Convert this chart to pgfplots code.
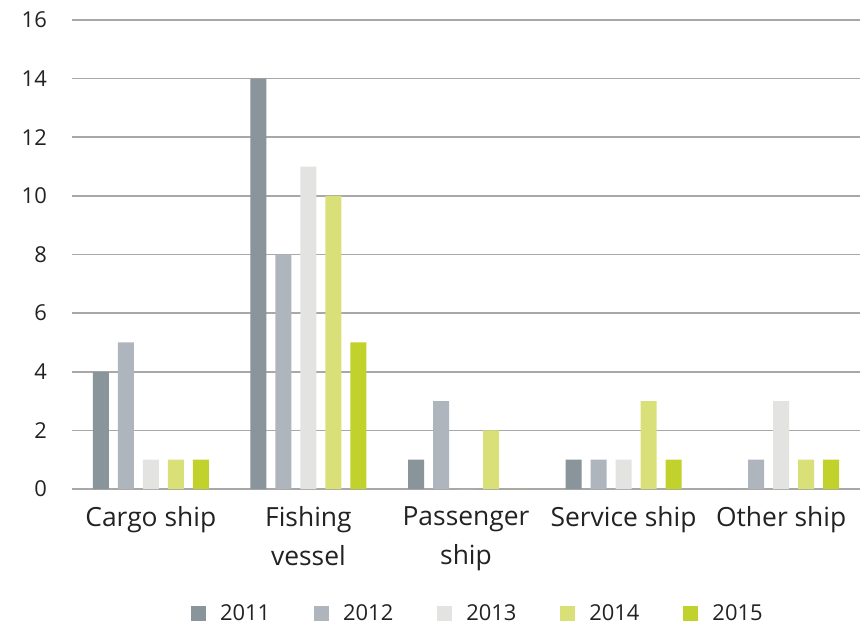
\documentclass[border=0pt]{standalone}
\usepackage{pgfplots}
\pgfplotsset{compat=1.18}
\usepackage{fontspec}
\setmainfont{Open Sans}
\usetikzlibrary{calc}
\definecolor{cA}{HTML}{8A949B}
\definecolor{cB}{HTML}{AEB5BC}
\definecolor{cC}{HTML}{E3E3E2}
\definecolor{cD}{HTML}{D8E077}
\definecolor{cE}{HTML}{C2D22C}
\definecolor{gridc}{HTML}{A8A8A8}
\definecolor{txt}{HTML}{222222}
\begin{document}
\begin{tikzpicture}
\begin{axis}[
  name=ax,
  scale only axis,
  width=788bp, height=469bp,
  ybar=9bp, bar width=16bp,
  xmin=-0.5, xmax=4.5,
  ymin=0, ymax=16,
  ytick={0,2,...,16},
  xtick={0,1,2,3,4},
  xticklabels={Cargo ship, Fishing\\vessel, Passenger\\ship, Service ship, Other ship},
  axis line style={draw=none},
  major tick length=0pt,
  ymajorgrids,
  grid style={gridc, line width=1.5bp},
  /pgf/number format/assume math mode=true,
  yticklabel style={font=\fontsize{22}{26}\selectfont, text=txt, anchor=east, inner sep=0pt, xshift=-25bp},
  xticklabel style={font=\fontsize{26.5}{39}\selectfont, text=txt, align=center, yshift=-14bp},
  legend columns=5,
  legend style={draw=none, at={(0.515,-0.2655)}, anchor=center,
    font=\fontsize{22}{26}\selectfont, text=txt,
    /tikz/every odd column/.append style={column sep=12bp},
    /tikz/every even column/.append style={column sep=42bp}},
  legend image code/.code={\fill[#1] (0bp,-7.5bp) rectangle (15bp,7.5bp);},
  clip=false,
]
\addplot[fill=cA, draw=none] coordinates {(0,4) (1,14) (2,1) (3,1) (4,0)};
\addplot[fill=cB, draw=none] coordinates {(0,5) (1,8) (2,3) (3,1) (4,1)};
\addplot[fill=cC, draw=none] coordinates {(0,1) (1,11) (2,0) (3,1) (4,3)};
\addplot[fill=cD, draw=none] coordinates {(0,1) (1,10) (2,2) (3,3) (4,1)};
\addplot[fill=cE, draw=none] coordinates {(0,1) (1,5) (2,0) (3,1) (4,1)};
\legend{2011,2012,2013,2014,2015}
\end{axis}
\pgfresetboundingbox
\path ($(ax.south west)+(-72bp,-138bp)$) rectangle ($(ax.north east)+(0bp,20bp)$);
\end{tikzpicture}
\end{document}
